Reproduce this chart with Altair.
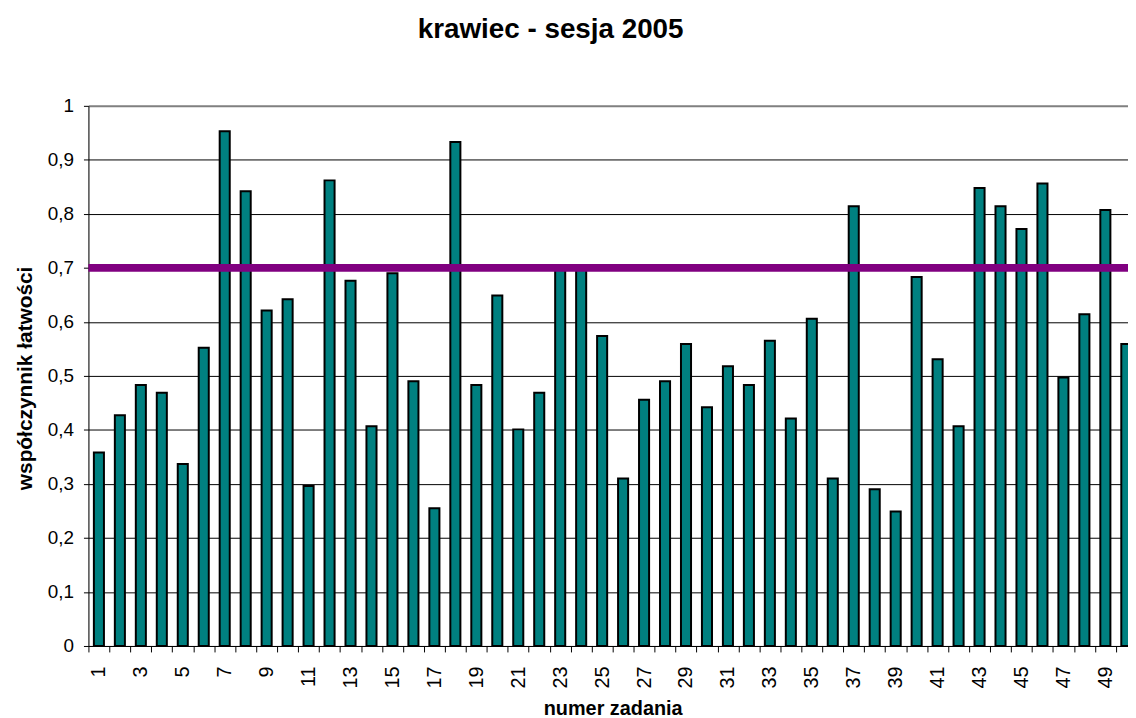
import altair as alt
import pandas as pd

tasks = list(range(1, 51))
values = [0.358, 0.427, 0.483, 0.469, 0.337, 0.552, 0.953, 0.842, 0.621, 0.642,
          0.296, 0.862, 0.676, 0.407, 0.690, 0.490, 0.255, 0.933, 0.483, 0.649,
          0.401, 0.469, 0.700, 0.700, 0.574, 0.310, 0.456, 0.490, 0.559, 0.442,
          0.518, 0.483, 0.565, 0.421, 0.606, 0.310, 0.814, 0.290, 0.249, 0.683,
          0.531, 0.407, 0.848, 0.814, 0.772, 0.856, 0.497, 0.614, 0.807, 0.559]
threshold = [0.7]
y_ticks = [0, 0.1, 0.2, 0.3, 0.4, 0.5, 0.6, 0.7, 0.8, 0.9, 1.0]

FONT = "Liberation Sans"
BAND = 21.11

df = pd.DataFrame({"zadanie": tasks, "wsp": values})
thr = pd.DataFrame({"prog": threshold})

x_scale = alt.Scale(domain=[0.5, 50.08], nice=False, zero=False)
y_scale = alt.Scale(domain=[0, 1], nice=False)

x_axis = alt.Axis(
    values=tasks, tickOffset=-BAND / 2, labelOffset=BAND / 2, format="d",
    labelExpr="datum.value % 2 == 1 ? datum.label : ''",
    labelAngle=270, labelAlign="right", labelBaseline="middle",
    labelFont=FONT, labelFontSize=20, labelColor="#000000",
    labelPadding=14, labelOverlap=False, labelFlush=False,
    tickSize=6, tickColor="#000000", domainColor="#000000", grid=False,
    title="numer zadania", titleFont=FONT, titleFontSize=20, titleFontWeight="bold",
    titleColor="#000000", titleX=528, titleY=63, titleAlign="center",
    titleBaseline="middle", titleAnchor="start",
)

y_axis = alt.Axis(
    values=y_ticks,
    labelExpr="datum.value == 0 ? '0' : (datum.value == 1 ? '1' : replace(format(datum.value, '.1f'), '.', ','))",
    labelFont=FONT, labelFontSize=19, labelColor="#000000", labelPadding=10,
    labelFlush=False,
    tickSize=5, tickColor="#000000", domainColor="#000000",
    grid=True,
    gridColor={"condition": {"test": "datum.value == 1", "value": "#808080"}, "value": "#000000"},
    gridWidth={"condition": {"test": "datum.value == 1", "value": 2}, "value": 1},
    title="współczynnik łatwości", titleFont=FONT, titleFontSize=21,
    titleFontWeight="bold", titleColor="#000000", titleAngle=270,
    titleX=-63, titleY=274, titleAlign="center", titleBaseline="middle",
    titleAnchor="start",
)

bars = alt.Chart(df).transform_calculate(
    lo="datum.zadanie - 0.24", hi="datum.zadanie + 0.24"
).mark_bar(fill="#008080", stroke="#000000", strokeWidth=2, clip=True).encode(
    x=alt.X("lo:Q", scale=x_scale, axis=x_axis),
    x2="hi:Q",
    y=alt.Y("wsp:Q", scale=y_scale, axis=y_axis, stack=None),
    y2=alt.datum(0),
)

rule = alt.Chart(thr).mark_rule(color="#800080", strokeWidth=8).encode(
    y=alt.Y("prog:Q", scale=y_scale)
)

chart = alt.layer(bars, rule).properties(
    width=1047, height=544,
    title=alt.TitleParams("krawiec - sesja 2005", font=FONT, fontSize=28,
                          fontWeight="bold", color="#000000", anchor="middle",
                          frame="group", dx=-58, dy=17, offset=48, baseline="alphabetic"),
    autosize=alt.AutoSizeParams(type="none"),
    padding={"left": 81, "top": 96, "right": 0, "bottom": 70},
).configure_view(stroke=None).configure(background="#ffffff")

chart.save("out.html", embed_options={"renderer": "svg", "actions": False})
